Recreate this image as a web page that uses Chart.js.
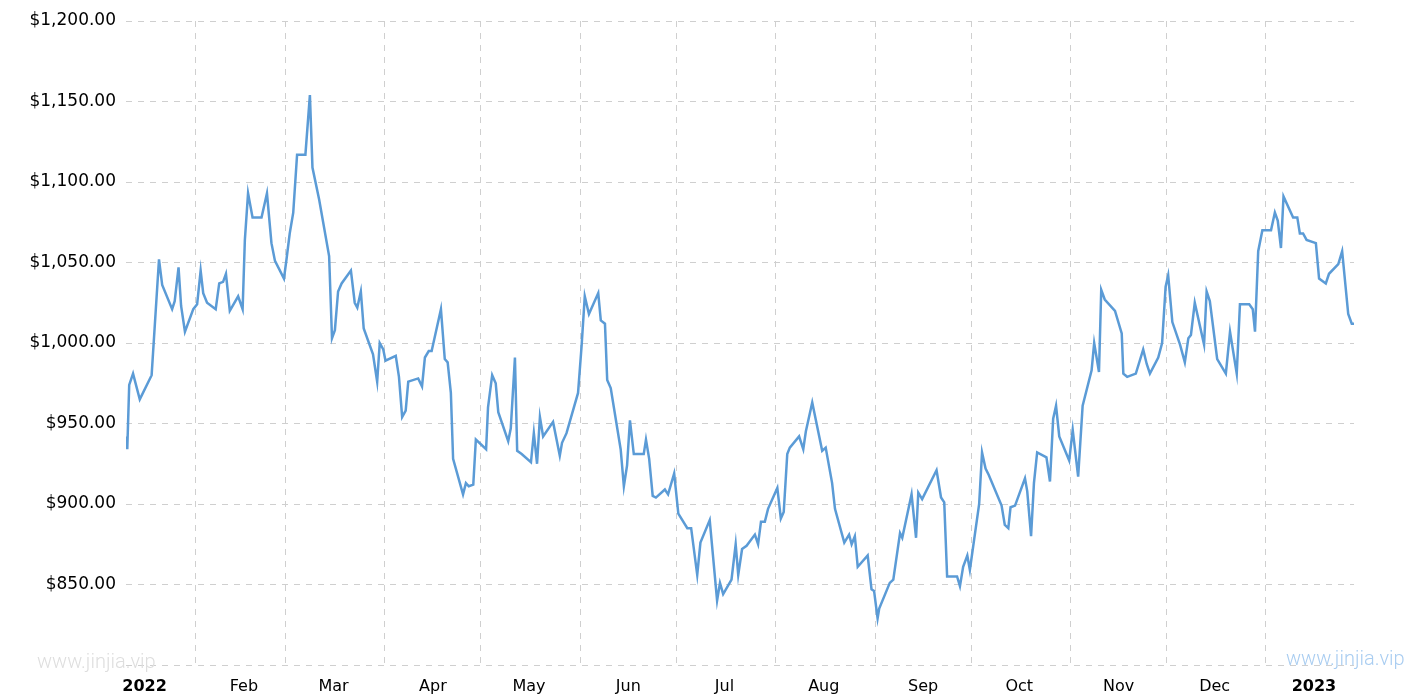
<!DOCTYPE html>
<html>
<head>
<meta charset="utf-8">
<script src="https://cdn.jsdelivr.net/npm/chart.js@4"></script>
<style>
  html, body { margin: 0; padding: 0; background: #fff; }
  #wrap { width: 1415px; height: 700px; }
</style>
</head>
<body>
<div id="wrap"><canvas id="myChart"></canvas></div>
<script>
// day = days since 1 Jan 2022
const days = [9.4, 9.6, 10.2, 11.4, 13.5, 17.2, 19.5, 20.5, 23.6, 24.4, 25.6, 26.4, 27.6, 30.2, 31.4, 32.5, 33.3, 34.5, 37.2, 38.3,
  39.5, 40.4, 41.6, 44.2, 45.6, 46.3, 47.3, 48.7, 51.5, 53.2, 54.6, 55.7, 58.5, 59.3, 60.3, 61.4, 62.6, 65.2, 66.6, 67.4,
  69.5, 72.6, 73.5, 74.4, 75.4, 76.5, 79.4, 80.6, 81.4, 82.5, 83.4, 86.3, 87.6, 88.4, 89.5, 90.2, 93.4, 94.4, 95.4, 96.5,
  97.3, 100.4, 101.6, 102.5, 103.7, 104.6, 107.5, 108.7, 109.6, 110.6, 111.3, 114.4, 115.3, 116.2, 117.6, 118.4, 121.6, 122.2, 123.5, 124.6,
  125.4, 128.5, 129.3, 130.6, 131.3, 132.7, 135.6, 136.5, 137.5, 138.4, 139.4, 142.5, 144.6, 145.3, 146.7, 150.3, 151.4, 152.4, 153.7, 156.6,
  157.4, 158.7, 159.4, 160.5, 163.6, 164.6, 165.6, 166.5, 167.7, 170.8, 171.5, 172.5, 173.6, 174.6, 177.4, 178.4, 180.3, 181.6, 184.4, 185.6,
  187.5, 188.5, 191.4, 193.7, 194.6, 195.6, 198.2, 199.5, 200.3, 201.5, 202.9, 205.5, 206.5, 207.4, 208.6, 209.6, 212.5, 213.6, 214.5, 215.6,
  216.4, 219.3, 220.6, 221.4, 223.4, 226.5, 227.6, 229.6, 230.5, 233.4, 234.9, 235.7, 236.7, 237.6, 240.7, 241.9, 242.7, 243.8, 244.3, 247.6,
  248.7, 250.8, 251.5, 254.4, 255.8, 256.5, 257.7, 262.2, 263.6, 264.6, 265.5, 268.6, 269.5, 270.5, 271.8, 272.6, 275.5, 276.4, 277.5, 278.5,
  282.5, 283.5, 284.6, 285.3, 286.7, 289.8, 290.5, 291.7, 292.6, 293.6, 296.5, 297.6, 298.6, 299.5, 300.5, 303.6, 304.7, 306.4, 307.8, 310.6,
  311.4, 312.9, 313.6, 314.7, 317.9, 320.0, 320.5, 321.7, 324.4, 326.7, 327.8, 328.8, 331.4, 332.6, 333.7, 334.5, 335.8, 338.2, 339.7, 340.8,
  341.6, 342.8, 345.7, 346.5, 347.5, 349.8, 352.5, 353.8, 355.9, 356.9, 359.8, 360.9, 361.6, 362.6, 363.9, 366.6, 367.8, 368.7, 369.7, 370.5,
  373.5, 374.8, 375.6, 376.6, 377.7, 380.6, 381.6, 383.7, 384.7, 387.6, 388.8, 390.7, 391.8, 392.5];

const prices = [942, 934, 974, 981, 965, 980, 1052, 1036, 1021, 1026, 1047, 1023, 1007, 1021, 1024, 1045, 1031, 1025, 1021, 1037,
  1038, 1043, 1020, 1029, 1021, 1064, 1093, 1078, 1078, 1093, 1062, 1051, 1040, 1052, 1068, 1081, 1117, 1117, 1154, 1109,
  1089, 1054, 1003, 1008, 1032, 1037, 1045, 1025, 1022, 1032, 1009, 993, 976, 1000, 996, 989, 992, 979, 954, 958,
  976, 978, 973, 991, 995, 995, 1021, 990, 988, 969, 928, 906, 913, 911, 912, 940, 934, 960, 980, 975,
  957, 939, 947, 991, 933, 931, 926, 944, 925, 954, 942, 951, 930, 938, 944, 969, 998, 1029, 1018, 1031,
  1014, 1012, 977, 972, 934, 911, 924, 952, 931, 931, 940, 928, 905, 904, 909, 906, 919, 894, 885, 885,
  856, 876, 890, 840, 851, 844, 853, 875, 856, 872, 874, 881, 875, 889, 889, 897, 910, 891, 895, 931,
  935, 942, 934, 945, 963, 933, 935, 913, 897, 876, 881, 875, 880, 861, 868, 847, 846, 829, 835, 851,
  853, 882, 879, 906, 879, 907, 903, 921, 904, 901, 855, 855, 849, 861, 868, 859, 900, 932, 922, 918,
  899, 887, 885, 898, 899, 916, 908, 880, 913, 932, 929, 914, 953, 961, 942, 927, 946, 917, 961, 983,
  1000, 982, 1033, 1027, 1020, 1006, 981, 979, 981, 996, 987, 981, 991, 1000, 1035, 1042, 1013, 999, 988, 1003,
  1005, 1025, 999, 1032, 1026, 990, 981, 1007, 981, 1024, 1024, 1021, 1007, 1057, 1070, 1070, 1081, 1076, 1059, 1091,
  1078, 1078, 1068, 1068, 1064, 1062, 1040, 1037, 1043, 1049, 1057, 1018, 1012, 1012];

const monthStarts = [31, 59, 90, 120, 151, 181, 212, 243, 273, 304, 334, 365];
const monthLabels = ['2022', 'Feb', 'Mar', 'Apr', 'May', 'Jun', 'Jul', 'Aug', 'Sep', 'Oct', 'Nov', 'Dec', '2023'];
const labelDays = [0, 31, 59, 90, 120, 151, 181, 212, 243, 273, 304, 334, 365].map(d => d + 15);

const points = days.map((d, i) => ({ x: d, y: prices[i] }));

const watermark = {
  id: 'watermark',
  afterDraw(chart) {
    const c = chart.ctx;
    c.save();
    c.font = '300 20px Roboto';
    c.textBaseline = 'middle';
    c.fillStyle = '#dedede';
    c.fillText('www.jinjia.vip', 37, 663);
    c.fillStyle = '#a9cdf1';
    c.fillText('www.jinjia.vip', 1286, 660);
    c.restore();
  }
};

new Chart(document.getElementById('myChart'), {
  type: 'line',
  data: {
    datasets: [{
      data: points,
      borderColor: '#5b9bd6',
      borderWidth: 2.5,
      pointRadius: 0,
      tension: 0,
      fill: false
    }]
  },
  options: {
    responsive: true,
    maintainAspectRatio: false,
    animation: false,
    layout: { padding: { top: 21, right: 61, bottom: 0, left: 0 } },
    plugins: { legend: { display: false }, tooltip: { enabled: false } },
    scales: {
      x: {
        type: 'linear',
        min: 9.2,
        max: 392.5,
        afterFit(scale) { scale.height = 35; },
        afterBuildTicks(scale) {
          const t = monthStarts.map(v => ({ value: v }));
          labelDays.forEach(v => t.push({ value: v }));
          scale.ticks = t;
        },
        grid: {
          drawTicks: false,
          lineWidth: 1,
          color: (ctx) => (ctx.tick && monthStarts.includes(ctx.tick.value)) ? '#cfcfcf' : 'rgba(0,0,0,0)'
        },
        border: { display: false, dash: [6, 6] },
        ticks: {
          autoSkip: false,
          maxRotation: 0,
          padding: 12,
          color: '#000',
          font: (ctx) => ({
            family: 'DejaVu Sans',
            size: 16,
            weight: (ctx.tick && (ctx.tick.value === 15 || ctx.tick.value === 380)) ? 'bold' : 'normal'
          }),
          callback: (v) => {
            const i = labelDays.indexOf(v);
            return i >= 0 ? monthLabels[i] : '';
          }
        }
      },
      y: {
        min: 800,
        max: 1200,
        afterFit(scale) { scale.width = 126; },
        grid: { drawTicks: false, color: '#cfcfcf', lineWidth: 1 },
        border: { display: false, dash: [6, 6] },
        ticks: {
          stepSize: 50,
          padding: 10,
          color: '#000',
          font: { family: 'DejaVu Sans', size: 17 },
          callback: (v) => v === 800 ? '' : '$' + v.toLocaleString('en-US', { minimumFractionDigits: 2, maximumFractionDigits: 2 })
        }
      }
    }
  },
  plugins: [watermark]
});
</script>
</body>
</html>
